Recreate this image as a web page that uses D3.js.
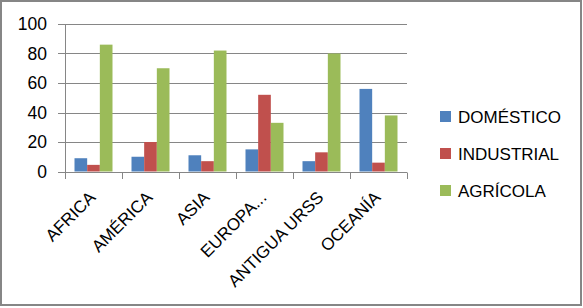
<!DOCTYPE html>
<html>
<head>
<meta charset="utf-8">
<script src="https://cdn.jsdelivr.net/npm/d3@7"></script>
<style>
  html, body { margin: 0; padding: 0; background: #fff; }
  svg { display: block; font-family: "Liberation Sans", Arial, sans-serif; }
</style>
</head>
<body>
<svg id="chart" width="583" height="308"></svg>
<script>
// data
const categories = ["AFRICA", "AMÉRICA", "ASIA", "EUROPA...", "ANTIGUA URSS", "OCEANÍA"];
const seriesNames = ["DOMÉSTICO", "INDUSTRIAL", "AGRÍCOLA"];
const domestico = [9, 10, 11, 15, 7, 56];
const industrial = [4.5, 20, 7, 52, 13, 6];
const agricola = [86, 70, 82, 33, 80, 38];
const yTicks = [0, 20, 40, 60, 80, 100];

const colors = ["#4F81BD", "#C0504D", "#9BBB59"];
const seriesValues = [domestico, industrial, agricola];

const svg = d3.select("#chart");

// outer frame
svg.append("rect")
    .attr("x", 1).attr("y", 1)
    .attr("width", 580).attr("height", 304)
    .attr("fill", "#fff")
    .attr("stroke", "#868686")
    .attr("stroke-width", 2);

const plot = { left: 65, right: 407, top: 24, bottom: 171.5 };
const gridColor = "#868686";
const snap = v => Math.round(v) + 0.5;

// Scales
const x = d3.scaleBand()
    .domain(categories)
    .range([plot.left, plot.right])
    .padding(0);

const xs = d3.scaleBand()
    .domain(seriesNames)
    .range([0, x.bandwidth()])
    .paddingInner(0)
    .paddingOuter(0.75);

const y = d3.scaleLinear()
    .domain([0, 100])
    .range([plot.bottom, plot.top]);

const g = svg.append("g");

// gridlines + y ticks
g.selectAll(".grid")
    .data(yTicks)
    .join("line")
    .attr("x1", plot.left - 7)
    .attr("x2", plot.right)
    .attr("y1", d => snap(y(d)))
    .attr("y2", d => snap(y(d)))
    .attr("stroke", gridColor)
    .attr("stroke-width", 1);

g.selectAll(".ylab")
    .data(yTicks)
    .join("text")
    .attr("x", 47)
    .attr("y", d => y(d))
    .attr("dy", "0.36em")
    .attr("text-anchor", "end")
    .style("font-size", "17.5px")
    .style("fill", "#000")
    .text(d => d);

// vertical axis line
g.append("line")
    .attr("x1", snap(plot.left)).attr("x2", snap(plot.left))
    .attr("y1", snap(y(100))).attr("y2", snap(plot.bottom) + 6.5)
    .attr("stroke", gridColor);

// category boundary ticks
const bounds = categories.map(c => x(c)).concat([x.range()[1]]);
g.selectAll(".xtick")
    .data(bounds)
    .join("line")
    .attr("x1", d => snap(d - 0.5))
    .attr("x2", d => snap(d - 0.5))
    .attr("y1", snap(plot.bottom))
    .attr("y2", snap(plot.bottom) + 6.5)
    .attr("stroke", gridColor);

// bars
seriesNames.forEach((s, si) => {
    g.append("g")
        .selectAll("rect")
        .data(categories.map((c, i) => ({ c, v: seriesValues[si][i] })))
        .join("rect")
        .attr("x", d => x(d.c) + xs(s))
        .attr("width", xs.bandwidth())
        .attr("y", d => y(d.v))
        .attr("height", d => y(0) - y(d.v))
        .attr("fill", colors[si]);
});

// category labels, rotated
g.selectAll(".xlab")
    .data(categories)
    .join("text")
    .attr("transform", c => `translate(${x(c) + x.bandwidth() / 2 + 3},${plot.bottom + 27}) rotate(-45)`)
    .attr("text-anchor", "end")
    .style("font-size", "17px")
    .style("fill", "#000")
    .text(c => c);

// legend
const legend = svg.append("g")
    .selectAll("g")
    .data(seriesNames)
    .join("g")
    .attr("transform", (d, i) => `translate(440,${116.5 + i * 37})`);

legend.append("rect")
    .attr("x", 0).attr("y", -5.5)
    .attr("width", 11).attr("height", 11)
    .attr("fill", (d, i) => colors[i]);

legend.append("text")
    .attr("x", 18)
    .attr("dy", "0.36em")
    .style("font-size", "17px")
    .style("fill", "#000")
    .text(d => d);
</script>
</body>
</html>
